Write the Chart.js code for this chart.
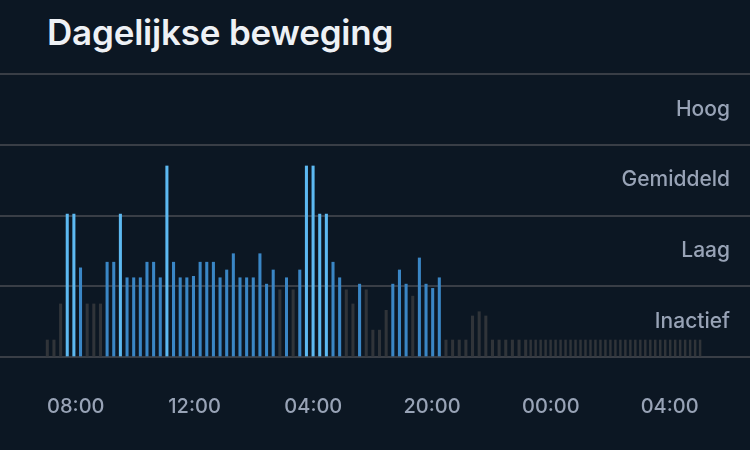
<!DOCTYPE html>
<html lang="nl">
<head>
<meta charset="utf-8">
<title>Dagelijkse beweging</title>
<script src="https://cdn.jsdelivr.net/npm/chart.js@4.4.1/dist/chart.umd.min.js"></script>
<style>
  html, body { margin: 0; padding: 0; background: #0c1723; }
  .wrap { position: relative; width: 750px; height: 450px; overflow: hidden; }
  h1 {
    position: absolute; left: 47px; top: 15px; margin: 0;
    font: 600 35px/1 Inter, "Noto Sans", sans-serif;
    color: #eef1f5; letter-spacing: -0.2px;
  }
  canvas { position: absolute; left: 0; top: 0; }
</style>
</head>
<body>
<div class="wrap">
  <h1>Dagelijkse beweging</h1>
  <canvas id="moveChart" width="750" height="450"></canvas>
</div>
<script>
/* activity level per sample (0 = geen, 4 = Hoog) */
const activeLevels = [
  0.24, 0.24, 0.75, 2.02, 2.02, 1.26, 0.75, 0.75, 0.75, 1.34,
  1.34, 2.02, 1.12, 1.12, 1.12, 1.34, 1.34, 1.12, 2.70, 1.34,
  1.12, 1.12, 1.14, 1.34, 1.34, 1.34, 1.12, 1.23, 1.46, 1.12,
  1.12, 1.12, 1.46, 1.03, 1.23, 0.95, 1.12, 0.95, 1.23, 2.70,
  2.70, 2.02, 2.02, 1.34, 1.12, 0.95, 0.75, 1.03, 0.95, 0.38,
  0.38, 0.66, 1.03, 1.23, 1.03, 0.86, 1.40, 1.03, 0.97, 1.12,
  0.24, 0.24, 0.24, 0.24, 0.58, 0.64, 0.58, 0.24, 0.24, 0.24,
  0.24, 0.24, 0.24
];
/* night samples, denser */
const restLevels = [
  0.24, 0.24, 0.24, 0.24, 0.24, 0.24, 0.24, 0.24, 0.24, 0.24,
  0.24, 0.24, 0.24, 0.24, 0.24, 0.24, 0.24, 0.24, 0.24, 0.24,
  0.24, 0.24, 0.24, 0.24, 0.24, 0.24, 0.24, 0.24, 0.24, 0.24,
  0.24, 0.24, 0.24, 0.24, 0.24
];
const levelLabels = ['Inactief', 'Laag', 'Gemiddeld', 'Hoog'];
const timeLabels = ['08:00', '12:00', '04:00', '20:00', '00:00', '04:00'];

const C_REST = '#303439';
const C_LOW = '#3a86c5';
const C_HIGH = '#5db9f1';
const GRID = '#393e46';
const TEXT = '#98a3b6';

function barColor(v) {
  if (v >= 2) return C_HIGH;
  if (v >= 0.96) return C_LOW;
  return C_REST;
}

// keep axes from eating into the chart area
function noPadding(s) {
  s.paddingLeft = 0; s.paddingRight = 0; s.paddingTop = 0; s.paddingBottom = 0;
}

document.addEventListener('DOMContentLoaded', () => {
  const lastActive = activeLevels.length - 1;
  const dayPoints = activeLevels.map((v, i) => ({ x: i, y: v }));
  const nightPoints = restLevels.map((v, i) => ({ x: lastActive + 0.75 * (i + 1), y: v }));

  const font = { family: 'Inter, "Noto Sans", sans-serif', size: 20, weight: '500' };
  const sideFont = { family: 'Inter, "Noto Sans", sans-serif', size: 21, weight: '500' };

  new Chart(document.getElementById('moveChart'), {
    type: 'bar',
    data: {
      datasets: [
        { data: dayPoints, backgroundColor: activeLevels.map(barColor), barThickness: 2.4, grouped: false },
        { data: nightPoints, backgroundColor: restLevels.map(barColor), barThickness: 1.8, grouped: false }
      ]
    },
    options: {
      responsive: false,
      animation: false,
      layout: { padding: { top: 74, left: 0, right: 0, bottom: 0 } },
      plugins: { legend: { display: false }, tooltip: { enabled: false } },
      scales: {
        x: { type: 'linear', min: -7.12, max: 105.76, offset: false, display: false },
        xt: {
          type: 'linear', position: 'bottom', offset: false,
          min: -0.638, max: 5.677,
          grid: { display: false, drawTicks: false },
          border: { display: false },
          afterBuildTicks: s => { s.ticks = timeLabels.map((_, i) => ({ value: i })); },
          afterFit: s => { s.height = 93; noPadding(s); },
          ticks: { color: TEXT, font, padding: 38, maxRotation: 0, autoSkip: false, callback: v => timeLabels[v] }
        },
        y: {
          min: 0, max: 4, position: 'left',
          grid: { color: GRID, lineWidth: 2, drawTicks: false },
          border: { display: false },
          ticks: { display: false, stepSize: 1 },
          afterFit: s => { s.width = 0; noPadding(s); }
        },
        yl: {
          min: 0, max: 4, position: 'right',
          grid: { display: false, drawTicks: false },
          border: { display: false },
          afterBuildTicks: s => { s.ticks = levelLabels.map((_, i) => ({ value: i + 0.5 })); },
          afterFit: s => { s.width = 0; noPadding(s); },
          ticks: { mirror: true, padding: -20, color: TEXT, font: sideFont, callback: v => levelLabels[Math.floor(v)] }
        }
      }
    }
  });
});
</script>
</body>
</html>
